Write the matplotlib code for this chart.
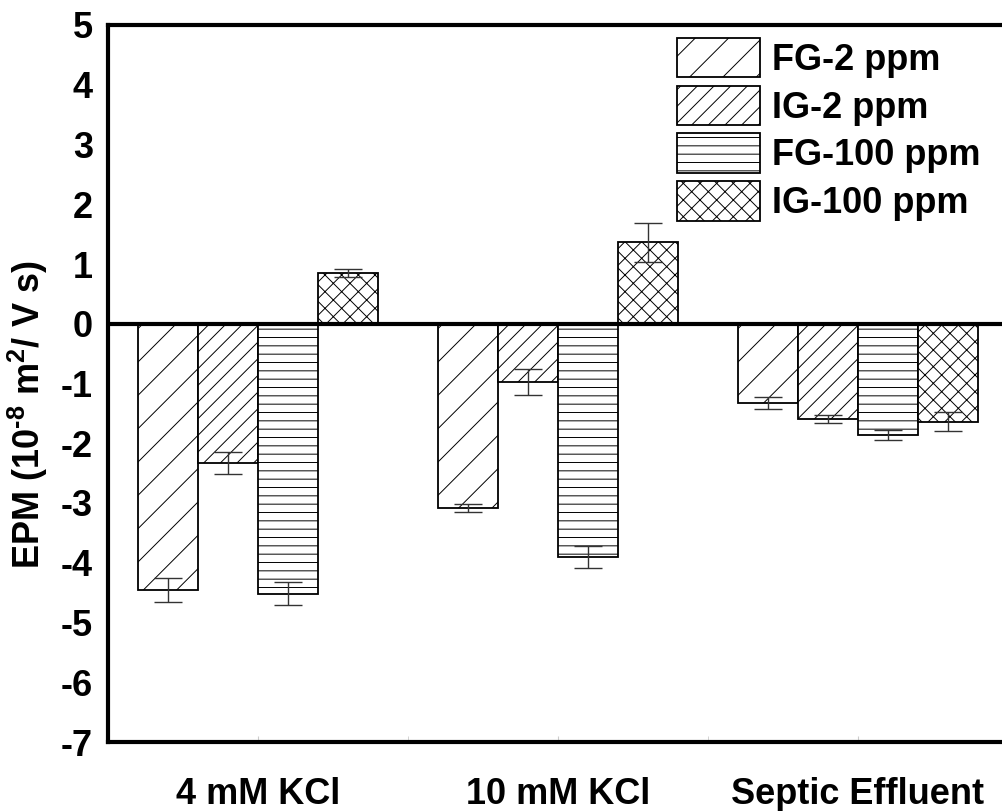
import numpy as np
import matplotlib.pyplot as plt

# electrophoretic mobility, 10^-8 m2/V s
categories = ["4 mM KCl", "10 mM KCl", "Septic Effluent"]
series = ["FG-2 ppm", "IG-2 ppm", "FG-100 ppm", "IG-100 ppm"]
fg2 = [-4.45, -3.08, -1.32]
ig2 = [-2.33, -0.97, -1.59]
fg100 = [-4.52, -3.90, -1.86]
ig100 = [0.85, 1.36, -1.64]
fg2_err = [0.20, 0.07, 0.10]
ig2_err = [0.18, 0.22, 0.07]
fg100_err = [0.19, 0.18, 0.09]
ig100_err = [0.07, 0.33, 0.16]

values = [fg2, ig2, fg100, ig100]
errors = [fg2_err, ig2_err, fg100_err, ig100_err]
hatches = ["/", "//", "--", "xx"]

plt.rcParams["font.family"] = ["Liberation Sans", "DejaVu Sans"]
plt.rcParams["font.weight"] = "bold"
plt.rcParams["hatch.linewidth"] = 0.7
plt.rcParams["axes.unicode_minus"] = False
plt.rcParams["mathtext.fontset"] = "custom"
plt.rcParams["mathtext.rm"] = "Liberation Sans:bold"
plt.rcParams["mathtext.bf"] = "Liberation Sans:bold"

fig = plt.figure(figsize=(10.02, 8.11), dpi=100)
ax = fig.add_axes([108 / 1002, 69 / 811, 900 / 1002, 717 / 811])

x = np.arange(len(categories))
width = 0.2
offsets = [-0.3, -0.1, 0.1, 0.3]
for vals, errs, h, lab, off in zip(values, errors, hatches, series, offsets):
    ax.bar(x + off, vals, width, color="white", edgecolor="black",
           linewidth=1.3, hatch=h, label=lab, zorder=2)
    ax.errorbar(x + off, vals, yerr=errs, fmt="none", ecolor="#333333",
                elinewidth=1, capsize=10, capthick=1, zorder=3)

ax.axhline(0, color="black", linewidth=3, zorder=4)

ax.set_xlim(-0.5, 2.5)
ax.set_ylim(-7, 5)
ax.set_yticks(range(-7, 6))
ax.set_xticks(x)
ax.set_xticklabels(categories)
ax.set_xticks(np.arange(-0.5, 2.6, 0.5), minor=True)
ax.tick_params(axis="y", length=0, pad=11, labelsize=26)
ax.tick_params(axis="x", which="major", length=4, color="#cccccc",
               direction="in", pad=25, labelsize=26)
ax.tick_params(axis="x", which="minor", length=4, color="#cccccc",
               direction="in")

for side in ["left", "bottom", "top"]:
    ax.spines[side].set_linewidth(3)
ax.spines["right"].set_visible(False)

ax.set_ylabel("EPM (10$^{\\text{-8}}$ m$^{\\text{2}}$/ V s)",
              fontsize=26, fontweight="bold")
ax.yaxis.set_label_coords(-0.064, 0.457)

fig.legend(loc="upper left", bbox_to_anchor=(677 / 1002, 773 / 811),
           fontsize=26, frameon=False, handlelength=2.3, handleheight=1.3,
           labelspacing=0.22, handletextpad=0.33, borderpad=0,
           borderaxespad=0)

fig.savefig("out.png", dpi=100)
